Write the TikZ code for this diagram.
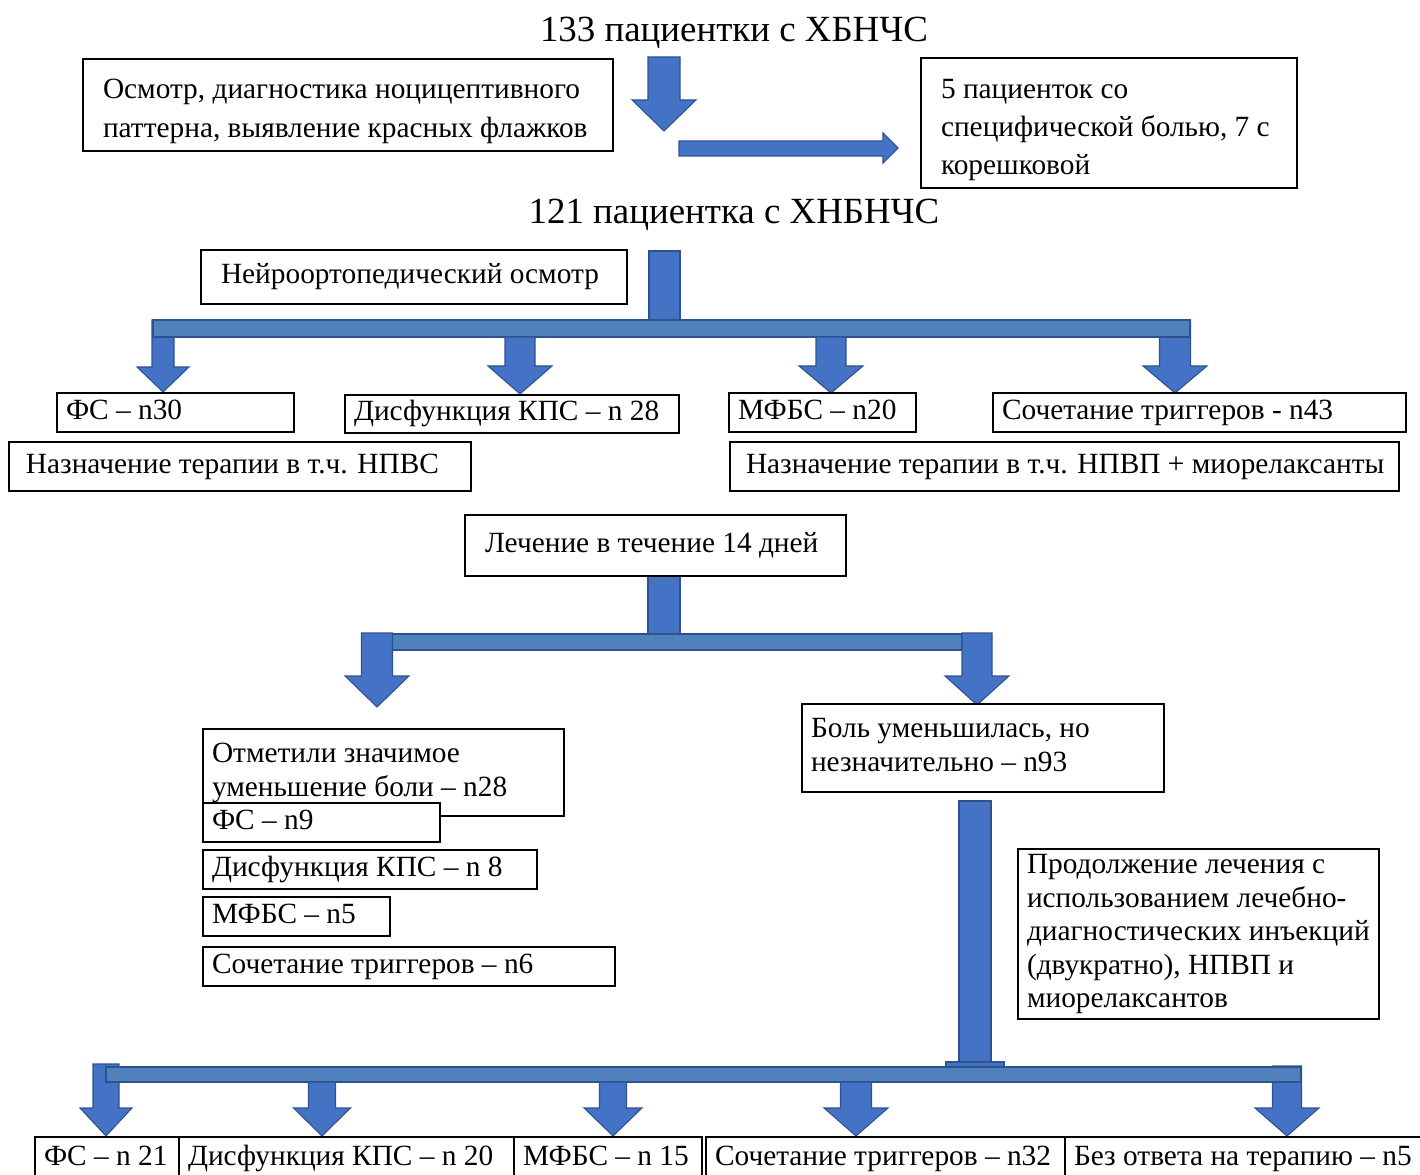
\documentclass[tikz,border=0pt]{standalone}
\usepackage{fontspec}
\setmainfont{Liberation Serif}
\definecolor{arrowblue}{HTML}{4472C4}
\definecolor{barblue}{HTML}{4F81BD}
\definecolor{edgeblue}{HTML}{2F528F}
\tikzset{
  box/.style={draw, line width=1.1pt, fill=white, inner ysep=0pt, anchor=center},
  headline/.style={font=\fontsize{21}{25}\selectfont, inner sep=0pt},
  shaft/.style={fill=arrowblue, draw=edgeblue, line width=0.6pt},
  crossbar/.style={fill=barblue, draw=edgeblue, line width=0.6pt}
}
% #1 x, #2 top, #3 head start, #4 tip, #5 half shaft, #6 half head
\newcommand{\blockdown}[6]{\draw[shaft] (#1-#5,#2) -- (#1+#5,#2) -- (#1+#5,#3) -- (#1+#6,#3) -- (#1,#4) -- (#1-#6,#3) -- (#1-#5,#3) -- cycle;}
% [#1 line skip] #2 name, #3 x1, #4 y1, #5 x2, #6 y2, #7 left pad, #8 text
\newcommand{\flowbox}[8][19.4pt]{%
  \pgfmathsetlengthmacro{\fbw}{(#5-#3)*0.02cm}%
  \pgfmathsetlengthmacro{\fbh}{(#6-#4)*0.02cm}%
  \pgfmathsetlengthmacro{\fbt}{(#5-#3-2*#7)*0.02cm}%
  \pgfmathsetlengthmacro{\fbp}{#7*0.02cm}%
  \node[box, minimum width=\fbw, minimum height=\fbh, inner xsep=\fbp] (#2) at ({(#3+#5)/2},{(#4+#6)/2})
    {\makebox[\fbt][l]{\fontsize{16.7}{#1}\selectfont\begin{tabular}{@{}l@{}}#8\end{tabular}}};}
\begin{document}
\begin{tikzpicture}[x=0.02cm,y=-0.02cm]
\useasboundingbox (0,0) rectangle (1420,1175);
\node[headline] (n133) at (734,33) {133 пациентки с ХБНЧС};
\node[headline] (n121) at (734,215) {121 пациентка с ХНБНЧС};
\blockdown{664}{57}{100}{131}{16}{32}
\draw[shaft] (679,141) -- (883,141) -- (883,133) -- (898,148) -- (883,163) -- (883,156) -- (679,156) -- cycle;
\draw[shaft] (649,251) rectangle (680,320);
\blockdown{163}{320}{367}{392}{11}{26}
\blockdown{1175}{320}{366}{393}{15.5}{32}
\draw[crossbar] (153,320) rectangle (1190,337);
\blockdown{520}{337}{366}{394}{15}{32}
\blockdown{831}{337}{366}{393}{15}{32}
\draw[shaft] (648,576) rectangle (680,634);
\draw[crossbar] (392,634) rectangle (962,650);
\blockdown{377}{633}{676}{707}{15.5}{32}
\blockdown{977}{633}{676}{705}{15}{32}
\draw[shaft] (959,801) rectangle (991,1064);
\draw[shaft] (946,1062) rectangle (1004,1067);
\blockdown{106}{1064}{1108}{1136}{13}{26}
\blockdown{1287}{1066}{1108}{1136}{14.5}{32}
\draw[crossbar] (106,1067) rectangle (1301,1082);
\blockdown{322}{1082}{1108}{1136}{13.5}{28.5}
\blockdown{613}{1082}{1108}{1136}{13.5}{29}
\blockdown{856}{1082}{1108}{1136}{15.5}{32}
\flowbox[22.2pt]{osm}{83}{59}{613}{151}{20}{\rule{0pt}{22pt}Осмотр, диагностика ноцицептивного\\паттерна, выявление красных флажков}
\flowbox[21.6pt]{spec}{921}{58}{1297}{188}{20}{\rule{0pt}{22pt}5 пациенток со\\специфической болью, 7 с\\корешковой}
\flowbox{neuro}{201}{250}{627}{304}{20}{Нейроортопедический осмотр}
\flowbox{fs1}{57}{393}{294}{432}{9}{ФС – n30}
\flowbox{kps1}{345}{395}{679}{433}{9}{Дисфункция КПС – n 28}
\flowbox{mfbs1}{729}{393}{916}{432}{9}{МФБС – n20}
\flowbox{trig1}{993}{393}{1406}{432}{9}{Сочетание триггеров - n43}
\flowbox{ther1}{9}{442}{471}{491}{17}{Назначение терапии в т.ч. НПВС}
\flowbox{ther2}{730}{442}{1399}{491}{16}{Назначение терапии в т.ч. НПВП + миорелаксанты}
\flowbox{treat}{465}{515}{846}{576}{20}{Лечение в течение 14 дней}
\flowbox{good}{203}{729}{564}{816}{9}{Отметили значимое\\уменьшение боли – n28}
\flowbox{fs2}{203}{803}{440}{842}{9}{ФС – n9}
\flowbox{kps2}{203}{850}{537}{889}{9}{Дисфункция КПС – n 8}
\flowbox{mfbs2}{203}{897}{390}{936}{9}{МФБС – n5}
\flowbox{trig2}{203}{947}{615}{986}{9}{Сочетание триггеров – n6}
\flowbox{bad}{802}{704}{1164}{792}{9}{Боль уменьшилась, но\\незначительно – n93}
\flowbox[19pt]{cont}{1018}{849}{1379}{1019}{9}{Продолжение лечения с\\использованием лечебно-\\диагностических инъекций\\(двукратно), НПВП и\\миорелаксантов}
\flowbox{fs3}{35}{1137}{179}{1180}{9}{ФС – n 21}
\flowbox{kps3}{179}{1137}{514}{1180}{9}{Дисфункция КПС – n 20}
\flowbox{mfbs3}{514}{1137}{702}{1180}{9}{МФБС – n 15}
\flowbox{trig3}{706}{1137}{1065}{1180}{9}{Сочетание триггеров – n32}
\flowbox{none}{1065}{1137}{1428}{1180}{9}{Без ответа на терапию – n5}
\end{tikzpicture}
\end{document}
